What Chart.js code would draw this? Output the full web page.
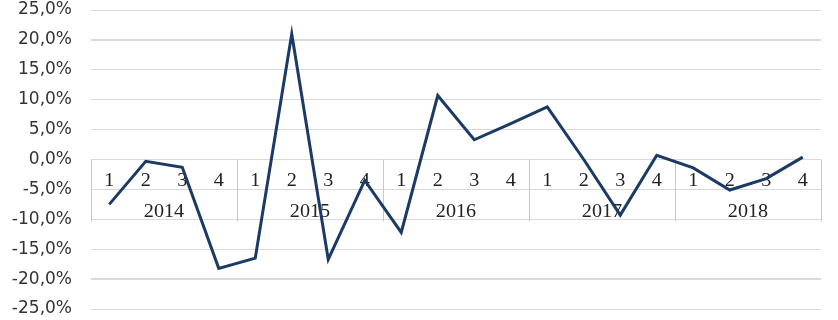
<!DOCTYPE html>
<html lang="pt">
<head>
<meta charset="UTF-8">
<title>Variação trimestral</title>
<script src="https://cdn.jsdelivr.net/npm/chart.js"></script>
<style>
  html, body { margin: 0; padding: 0; background: #fff; }
  #wrap { width: 838px; height: 320px; }
</style>
</head>
<body>
<div id="wrap"><canvas id="lineChart" width="838" height="320"></canvas></div>
<script>
// dados
const years = ['2014', '2015', '2016', '2017', '2018'];
const quarters = ['1', '2', '3', '4'];
const values = [
  -7.5, -0.3, -1.3, -18.2,
  -16.5, 21.0, -16.7, -3.5,
  -12.2, 10.7, 3.3, 6.0,
  8.8, 0.0, -9.3, 0.7,
  -1.4, -5.1, -3.2, 0.4
];
const yTicks = [25, 20, 15, 10, 5, 0, -5, -10, -15, -20, -25];

const labels = [];
years.forEach(function (y) {
  quarters.forEach(function (q) { labels.push(y + '-' + q); });
});

// eixo de categorias em dois níveis, desenhado sobre a linha do zero
const categoryAxis = {
  id: 'categoryAxis',
  beforeDatasetsDraw(chart) {
    const ctx = chart.ctx;
    const x = chart.scales.x;
    const y = chart.scales.y;
    const y0 = y.getPixelForValue(0);
    const half = (x.getPixelForValue(1) - x.getPixelForValue(0)) / 2;
    ctx.save();
    ctx.strokeStyle = '#c8c8c8';
    ctx.lineWidth = 1;
    for (let i = 0; i <= years.length; i++) {
      const idx = i * quarters.length;
      const px = Math.round(x.getPixelForValue(idx) - half) + 0.5;
      ctx.beginPath();
      ctx.moveTo(px, y0);
      ctx.lineTo(px, y0 + 62);
      ctx.stroke();
    }
    ctx.fillStyle = '#222';
    ctx.textAlign = 'center';
    ctx.textBaseline = 'middle';
    ctx.font = '18px "Liberation Serif", serif';
    labels.forEach(function (lab, i) {
      const px = x.getPixelForValue(i);
      ctx.save();
      ctx.translate(px, y0 + 22);
      ctx.scale(1.12, 1);
      ctx.fillText(quarters[i % quarters.length], 0, 0);
      ctx.restore();
    });
    years.forEach(function (yr, j) {
      const a = x.getPixelForValue(j * quarters.length);
      const b = x.getPixelForValue(j * quarters.length + quarters.length - 1);
      ctx.save();
      ctx.translate((a + b) / 2, y0 + 53);
      ctx.scale(1.12, 1);
      ctx.fillText(yr, 0, 0);
      ctx.restore();
    });
    ctx.restore();
  }
};

new Chart(document.getElementById('lineChart'), {
  type: 'line',
  data: {
    labels: labels,
    datasets: [{
      data: values,
      borderColor: '#1b3a66',
      borderWidth: 3,
      pointRadius: 0,
      tension: 0,
      fill: false
    }]
  },
  options: {
    responsive: false,
    animation: false,
    layout: { padding: { top: 10, bottom: 11, right: 17, left: 0 } },
    plugins: { legend: { display: false }, tooltip: { enabled: false } },
    scales: {
      x: {
        display: false,
        offset: true
      },
      y: {
        min: -25,
        max: 25,
        afterBuildTicks: function (scale) {
          scale.ticks = yTicks.map(function (v) { return { value: v }; });
        },
        afterFit: function (scale) {
          scale.width = 91;
          scale.paddingTop = 0;
          scale.paddingBottom = 0;
        },
        border: { display: false },
        grid: {
          drawTicks: false,
          color: '#d9d9d9',
          lineWidth: function (c) {
            return (c.tick && Math.abs(c.tick.value) === 20) ? 2 : 1;
          }
        },
        ticks: {
          padding: 19,
          color: '#333',
          font: { family: '"DejaVu Sans", Verdana, sans-serif', size: 17 },
          callback: function (v) { return v.toFixed(1).replace('.', ',') + '%'; }
        }
      }
    }
  },
  plugins: [categoryAxis]
});
</script>
</body>
</html>
